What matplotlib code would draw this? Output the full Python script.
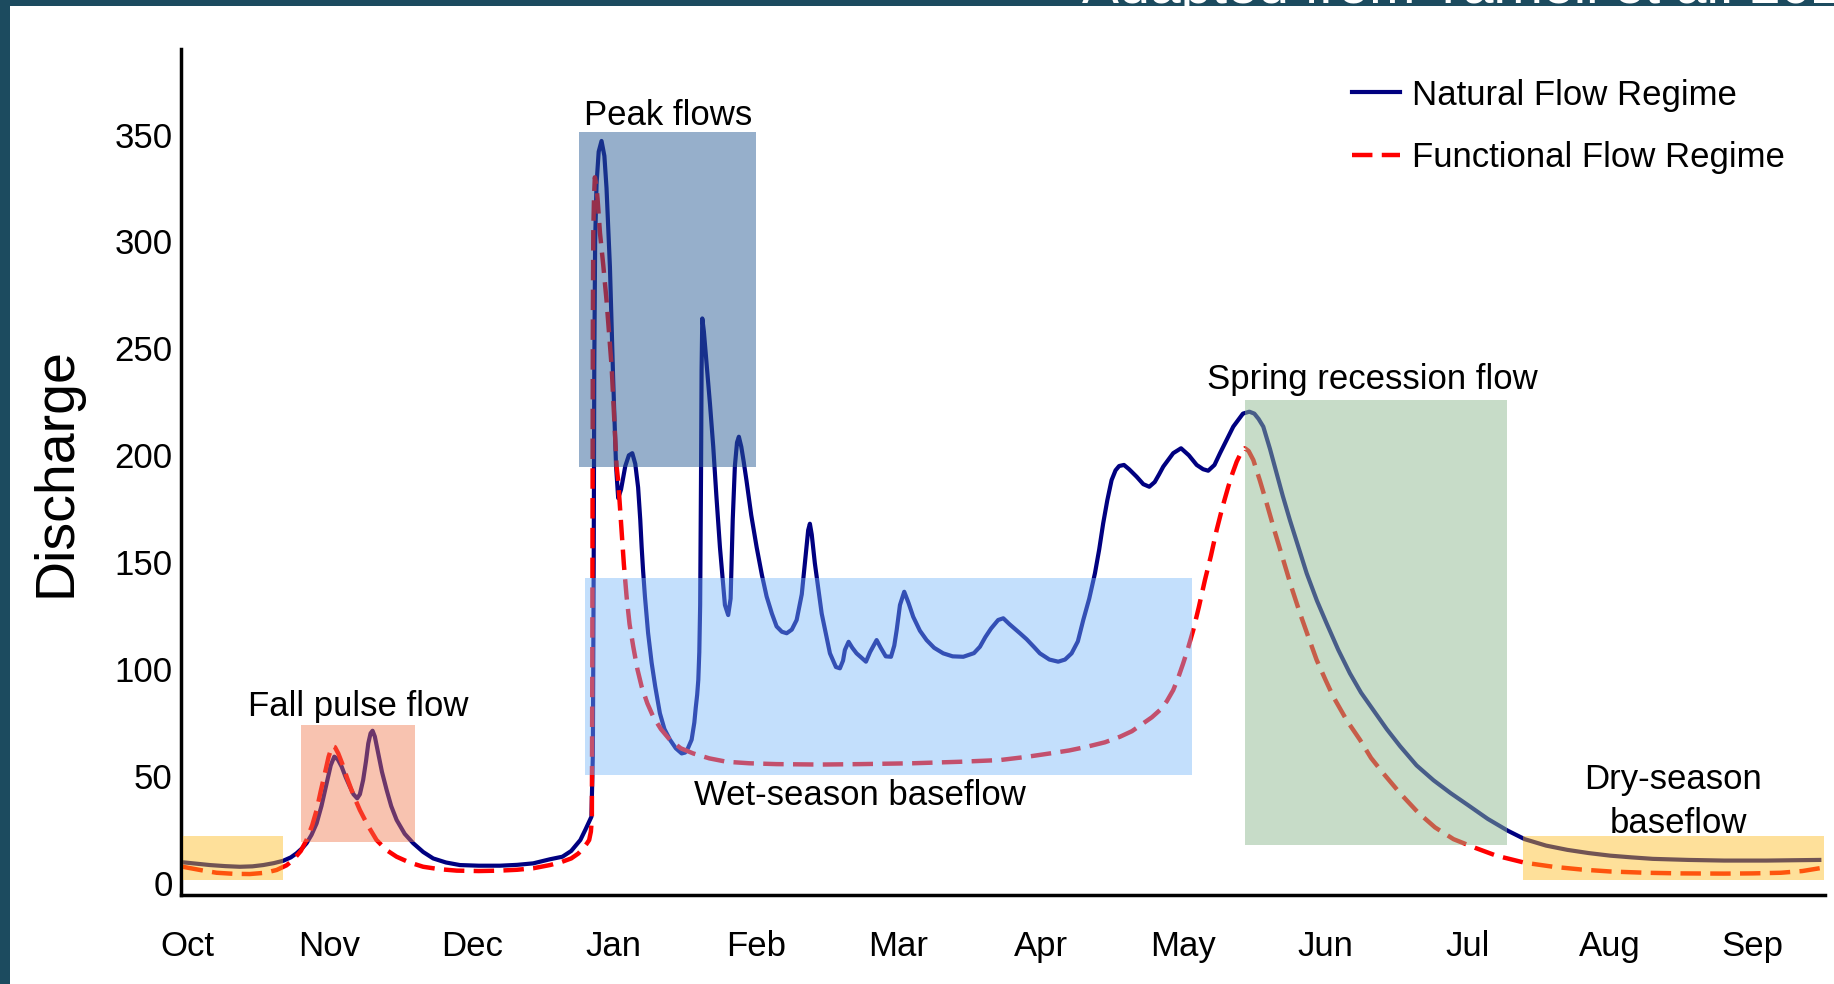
import matplotlib
matplotlib.use("Agg")
import matplotlib.pyplot as plt
from matplotlib.patches import Rectangle

plt.rcParams['font.family'] = ['Liberation Sans', 'DejaVu Sans']

# month ticks (0 = Oct)
months = ['Oct', 'Nov', 'Dec', 'Jan', 'Feb', 'Mar', 'Apr', 'May', 'Jun', 'Jul', 'Aug', 'Sep']

# natural flow regime (x in months from Oct, discharge)
nat_x = [-0.03, 0.07, 0.161, 0.27, 0.372, 0.46, 0.536, 0.61, 0.676, 0.73, 0.77, 0.81,
         0.84, 0.875, 0.911, 0.945, 0.981, 1.01, 1.035, 1.06, 1.087, 1.115, 1.145, 1.17,
         1.196, 1.215, 1.238, 1.258, 1.274, 1.29, 1.304, 1.32, 1.344, 1.37, 1.403, 1.435,
         1.473, 1.53, 1.59, 1.66, 1.73, 1.82, 1.918, 2.05, 2.199, 2.32, 2.433, 2.55,
         2.638, 2.70, 2.764, 2.80, 2.842, 2.852, 2.858, 2.862, 2.868, 2.878, 2.893,
         2.913, 2.933, 2.948, 2.972, 2.995, 3.015, 3.03, 3.05, 3.08, 3.105, 3.129, 3.15,
         3.17, 3.185, 3.195, 3.205, 3.218, 3.24, 3.265, 3.29, 3.323, 3.355, 3.394, 3.435,
         3.476, 3.50, 3.52, 3.546, 3.565, 3.575, 3.585, 3.593, 3.60, 3.606,
         3.612, 3.616, 3.621, 3.632, 3.651, 3.675, 3.698, 3.72, 3.745, 3.78, 3.803, 3.82,
         3.835, 3.85, 3.865, 3.878, 3.895, 3.912, 3.932, 3.965, 4.003, 4.04, 4.073, 4.11,
         4.143, 4.18, 4.214, 4.25, 4.284, 4.32, 4.342, 4.365,
         4.377, 4.39, 4.412, 4.46, 4.518, 4.56, 4.588, 4.61, 4.623, 4.649, 4.675, 4.705,
         4.771, 4.80, 4.846, 4.875, 4.91, 4.947, 4.97, 4.987, 5.01, 5.04, 5.07, 5.103,
         5.15, 5.197, 5.25, 5.314, 5.38, 5.455, 5.53, 5.572, 5.61, 5.65, 5.70, 5.736,
         5.78, 5.853, 5.90, 5.95, 5.993, 6.06, 6.122, 6.17, 6.216, 6.26, 6.298, 6.34,
         6.38, 6.41, 6.438, 6.467, 6.497, 6.525, 6.55, 6.584, 6.62,
         6.673, 6.72, 6.762, 6.80, 6.83, 6.86, 6.93, 6.985, 7.04, 7.095, 7.14, 7.176,
         7.22, 7.259, 7.30, 7.352, 7.42, 7.465, 7.50, 7.53, 7.563, 7.61, 7.657, 7.70,
         7.75, 7.81, 7.868, 7.94, 8.008, 8.09, 8.172, 8.25, 8.336, 8.43, 8.524, 8.64,
         8.76, 8.88, 9.0, 9.14, 9.28, 9.4, 9.55, 9.7, 9.85, 10.0, 10.15, 10.3,
         10.55, 10.8, 11.1, 11.47]
nat_q = [9.7, 9.0, 8.4, 7.9, 7.6, 7.8, 8.4, 9.3, 10.4, 12, 13.9, 16.3,
         18.6, 22.5, 27.9, 36, 46.6, 55, 59.1, 57.8, 54.4, 49.5, 45, 41.5,
         39.6, 41.5, 48.2, 57, 65.3, 70, 71.2, 68.5, 60.6, 52, 43.5, 36,
         29.5, 23, 18.6, 14.5, 11.5, 9.6, 8.4, 8.1, 8.1, 8.5, 9.2, 11.1,
         12.3, 15, 20.1, 25, 31, 60, 150, 240, 300, 327, 342,
         347, 340, 325, 288, 235, 195, 180, 184, 195, 200, 201, 196,
         185, 170, 157, 146, 134, 117, 103, 92, 79.4, 72, 67, 63,
         60.6, 61, 63, 67, 75, 82, 88, 95, 108, 130,
         190, 240, 264, 258, 243, 224, 204, 181, 157, 130, 125.3, 133,
         170, 195, 206, 208.7, 204, 197, 188, 172, 157, 144, 134, 126,
         120, 117.5, 116.8, 118.5, 123, 135, 149.5, 165,
         168, 163, 149.5, 126, 107.4, 101, 100.4, 104, 109, 112.8, 110, 107.4,
         103.5, 108, 113.6, 110, 106, 105.8, 111, 118.3, 130, 136.2, 131, 124.5,
         118, 113.6, 110, 107.4, 106, 105.8, 107.5, 110.5, 115, 119, 123, 123.8,
         121, 116.8, 114, 110.5, 107.4, 104.5, 103.5, 104.5, 107.4, 113, 123, 133,
         144.8, 156, 168.2, 179, 188.4, 193, 195, 195.5, 193.5,
         190, 186.5, 185.3, 187.5, 191, 194.7, 201, 203.3, 200, 195.5, 193.5, 192.8,
         195.5, 201, 206.5, 213.4, 219.5, 220.4, 219.5, 217, 213.4, 203, 191.5, 181,
         169.7, 157, 144.8, 132, 121.4, 109, 98, 89, 80.9, 72, 64, 55,
         48, 42, 36.5, 30, 24.5, 20.5, 17.5, 15.5, 14, 12.8, 12, 11.3,
         10.8, 10.5, 10.5, 10.8]

# functional flow regime
fun_x = [-0.03, 0.1, 0.208, 0.33, 0.442, 0.55, 0.63, 0.70, 0.746, 0.80, 0.84, 0.88,
         0.911, 0.94, 0.969, 0.995, 1.02, 1.04, 1.063, 1.09, 1.122, 1.17, 1.215, 1.27,
         1.332, 1.40, 1.473, 1.56, 1.66, 1.77, 1.895, 2.05, 2.199, 2.32, 2.433, 2.55,
         2.63, 2.70, 2.75, 2.78, 2.81, 2.826, 2.838, 2.845,
         2.848, 2.85, 2.852, 2.855, 2.86, 2.866, 2.875, 2.885, 2.902, 2.925, 2.948, 2.984,
         3.019, 3.03, 3.054, 3.07, 3.089, 3.11, 3.136, 3.165, 3.195, 3.235, 3.276, 3.33,
         3.394, 3.47, 3.557, 3.67, 3.792, 3.95, 4.143, 4.45, 4.729, 5.1, 5.432, 5.712,
         5.9, 6.064, 6.2, 6.322, 6.45, 6.556, 6.64, 6.72, 6.78, 6.837, 6.885, 6.93,
         6.965, 7.0, 7.035, 7.071, 7.11, 7.153, 7.195, 7.235, 7.277, 7.317, 7.346, 7.376,
         7.405, 7.434, 7.46, 7.493, 7.54, 7.587, 7.645, 7.704, 7.76, 7.821, 7.88, 7.938,
         8.0, 8.055, 8.15, 8.243, 8.32, 8.406, 8.524, 8.65, 8.77, 8.9, 9.05, 9.2,
         9.4, 9.6, 9.8, 10.0, 10.25, 10.5, 10.8, 11.0, 11.2, 11.35, 11.48]
fun_q = [7.6, 6.0, 4.8, 4.3, 4.2, 4.8, 6.1, 8.3, 10.8, 15, 20.1, 27,
         34.1, 43, 51.3, 59, 64.1, 63.5, 60.6, 56, 49.7, 41, 34.1, 27,
         20.1, 15.5, 12.3, 9.7, 7.6, 6.5, 5.8, 5.6, 5.8, 6.2, 6.9, 8.4,
         9.8, 11.5, 13.8, 16, 18.5, 20.1, 24, 30,
         100, 180, 260, 304, 320, 330, 327, 320, 304, 289, 272.6, 241.4,
         194.7, 188, 165, 149, 134, 121, 110.5, 100, 91.8, 84, 77.8, 72,
         66.9, 63, 60.6, 58.3, 56.7, 56, 55.6, 55.4, 55.6, 56, 56.7, 57.5,
         59, 60.6, 62, 63.7, 65.8, 68.4, 71, 74.7, 77.5, 80.9, 85, 90.2,
         96, 102.7, 110, 118.3, 129, 141.7, 153, 165, 176, 185.3, 191.5, 197,
         201, 203.3, 202, 197.8, 188, 177.5, 164, 151, 138.5, 126.1, 115, 104.3,
         95, 87.1, 76, 66.9, 58.5, 51.3, 42, 33, 26, 20.5, 16.5, 12.8,
         9.5, 7.6, 6.3, 5.4, 4.8, 4.5, 4.4, 4.5, 4.8, 5.6, 7]

# flow components: (x0, x1, q0, q1)
dry_early = (-0.03, 0.676, 1.6, 21.9)
fall_pulse = (0.80, 1.60, 19.1, 73.9)
peak_flows = (2.754, 4.0, 194.7, 351)
wet_base = (2.80, 7.06, 50.3, 142.8)
spring_rec = (7.435, 9.275, 18.0, 226)
dry_late = (9.39, 11.5, 1.6, 21.9)

fig = plt.figure(figsize=(18.34, 9.84), dpi=100)
ax = fig.add_axes([181 / 1834, 1 - 895 / 984, 1644 / 1834, 846 / 984])

ax.plot(nat_x, nat_q, color='#000080', lw=3, solid_joinstyle='round',
        label='Natural Flow Regime', zorder=2)
ax.plot(fun_x, fun_q, color='#FF0000', lw=3.2, linestyle=(0, (4.6, 2.1)),
        label='Functional Flow Regime', zorder=2)

def box(ext, color, alpha):
    x0, x1, q0, q1 = ext
    ax.add_patch(Rectangle((x0, q0), x1 - x0, q1 - q0, facecolor=color,
                           edgecolor='none', alpha=alpha, zorder=3))

box(dry_early, '#FDBB1F', 0.45)
box(dry_late, '#FDBB1F', 0.45)
box(fall_pulse, '#F07A50', 0.45)
box(peak_flows, '#2F6199', 0.5)
box(wet_base, '#78B8FA', 0.44)
box(spring_rec, '#90BA92', 0.5)

fs = 25
ax.text(1.20, 78, 'Fall pulse flow', fontsize=fs, ha='center', va='baseline')
ax.text(3.38, 354.5, 'Peak flows', fontsize=fs, ha='center', va='baseline')
ax.text(4.73, 36.6, 'Wet-season baseflow', fontsize=fs, ha='center', va='baseline')
ax.text(8.33, 230.8, 'Spring recession flow', fontsize=fs, ha='center', va='baseline')
ax.text(10.44, 43.8, 'Dry-season', fontsize=fs, ha='center', va='baseline')
ax.text(10.48, 23.5, 'baseflow', fontsize=fs, ha='center', va='baseline')

ax.set_xlim(-0.042, 11.51)
ax.set_ylim(-5.6, 390)
ax.set_xticks(range(12))
ax.set_xticklabels(months)
ax.set_yticks(range(0, 351, 50))
ax.tick_params(axis='both', length=0, labelsize=fs)
ax.tick_params(axis='x', pad=25)
ax.tick_params(axis='y', pad=6)
for s in ['top', 'right']:
    ax.spines[s].set_visible(False)
for s in ['left', 'bottom']:
    ax.spines[s].set_linewidth(2.5)
ax.set_ylabel('Discharge', fontsize=40)
ax.yaxis.set_label_coords(-0.060, 0.5)

ax.legend(loc='upper left', bbox_to_anchor=(0.712, 0.965), frameon=False,
          fontsize=fs, handlelength=1.4, handletextpad=0.35, borderpad=0,
          borderaxespad=0, labelspacing=0.85)

# slide frame
fig.patches.append(Rectangle((0, 0), 10 / 1834, 1, transform=fig.transFigure,
                             facecolor='#1C4B5F', edgecolor='none', zorder=0))
fig.patches.append(Rectangle((0, 1 - 6 / 984), 1, 6 / 984, transform=fig.transFigure,
                             facecolor='#1C4B5F', edgecolor='none', zorder=0))
fig.text(1082 / 1834, 1 - 3 / 984, 'Adapted from Yarnell et al. 2020', color='white',
         fontsize=40, ha='left', va='baseline')

fig.savefig('out.png', dpi=100)
